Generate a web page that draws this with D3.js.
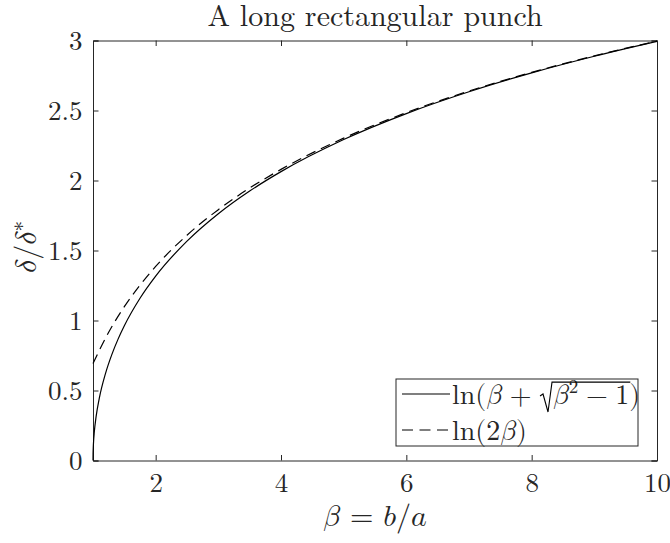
<!DOCTYPE html>
<html>
<head>
<meta charset="utf-8">
<script src="https://cdn.jsdelivr.net/npm/d3@7"></script>
<style>
  html, body { margin: 0; padding: 0; background: #fff; }
  svg text { font-family: "Latin Modern Roman", "CMU Serif", serif; fill: #262626; }
  svg text.math, svg tspan.math { font-family: "Latin Modern Math", "Latin Modern Roman", serif; }
</style>
</head>
<body>
<svg id="chart" width="670" height="543"></svg>
<script>
// Displacement ratio against aspect ratio for a long rectangular punch
const betaExact = [1, 1.001, 1.005, 1.01, 1.02, 1.05, 1.1, 1.2, 1.3, 1.4, 1.5, 1.75, 2, 2.5, 3, 3.5, 4, 5, 6, 7, 8, 9, 10];
const deltaExact = [0, 0.0447, 0.0999, 0.1413, 0.1997, 0.3150, 0.4436, 0.6224, 0.7564, 0.8670, 0.9624, 1.1588, 1.3170, 1.5668, 1.7627, 1.9248, 2.0634, 2.2924, 2.4779, 2.6339, 2.7687, 2.8873, 2.9932];

const betaApprox = [1, 1.25, 1.5, 1.75, 2, 2.5, 3, 3.5, 4, 5, 6, 7, 8, 9, 10];
const deltaApprox = [0.6931, 0.9163, 1.0986, 1.2528, 1.3863, 1.6094, 1.7918, 1.9459, 2.0794, 2.3026, 2.4849, 2.6391, 2.7726, 2.8904, 2.9957];

const xTicks = [2, 4, 6, 8, 10];
const yTicks = [0, 0.5, 1, 1.5, 2, 2.5, 3];

const svg = d3.select("#chart");
const W = 670, H = 543;
const margin = { left: 93, right: 13, top: 40.5, bottom: 82.5 };
const x = d3.scaleLinear().domain([1, 10]).range([margin.left, W - margin.right]);
const y = d3.scaleLinear().domain([0, 3]).range([H - margin.bottom, margin.top]);

const ink = "#262626";
const tickLen = 5.5;
const tickFont = 27;

// axes: ticks point inward and are mirrored on the top and right edges
const gx = svg.append("g").attr("transform", `translate(0,${y(0)})`)
  .call(d3.axisBottom(x).tickValues(xTicks).tickSize(-tickLen).tickPadding(12.5).tickFormat(d3.format("d")));
const gxTop = svg.append("g").attr("transform", `translate(0,${y(3)})`)
  .call(d3.axisTop(x).tickValues(xTicks).tickSize(-tickLen).tickFormat(""));
const gy = svg.append("g").attr("transform", `translate(${x(1)},0)`)
  .call(d3.axisLeft(y).tickValues(yTicks).tickSize(-tickLen).tickPadding(10.5).tickFormat(d3.format("")));
const gyRight = svg.append("g").attr("transform", `translate(${x(10)},0)`)
  .call(d3.axisRight(y).tickValues(yTicks).tickSize(-tickLen).tickFormat(""));

[gx, gxTop, gy, gyRight].forEach(g => {
  g.attr("font-family", null);
  g.select(".domain").attr("stroke", ink).attr("stroke-width", 1);
  g.selectAll(".tick line").attr("stroke", ink).attr("stroke-width", 1);
  g.selectAll(".tick text").attr("font-size", tickFont).attr("fill", ink);
});

// curves
const line = d3.line().x(d => x(d[0])).y(d => y(d[1])).curve(d3.curveMonotoneX);
const exactPts = betaExact.map((b, i) => [b, deltaExact[i]]);
const approxPts = betaApprox.map((b, i) => [b, deltaApprox[i]]);

svg.append("path").datum(approxPts).attr("d", line)
  .attr("fill", "none").attr("stroke", "#000").attr("stroke-width", 1.2)
  .attr("stroke-dasharray", "10,6");
svg.append("path").datum(exactPts).attr("d", line)
  .attr("fill", "none").attr("stroke", "#000").attr("stroke-width", 1.2);

// title
svg.append("text").attr("x", (x(1) + x(10)) / 2).attr("y", 26)
  .attr("text-anchor", "middle").attr("font-size", 30).attr("fill", "#000")
  .text("A long rectangular punch");

// x label: β = b/a
svg.append("text").attr("class", "math").attr("x", (x(1) + x(10)) / 2).attr("y", 526)
  .attr("text-anchor", "middle").attr("font-size", 30)
  .text("𝛽 = 𝑏/𝑎");

// y label: δ/δ*
const yl = svg.append("text").attr("class", "math")
  .attr("transform", `translate(36,247) rotate(-90)`)
  .attr("text-anchor", "middle").attr("font-size", 30);
yl.append("tspan").text("𝛿/𝛿");
yl.append("tspan").attr("font-size", 21).attr("dy", -12).text("∗");

// legend
const lg = svg.append("g");
const lx0 = 396, ly0 = 379, lw = 242, lh = 67;
lg.append("rect").attr("x", lx0).attr("y", ly0).attr("width", lw).attr("height", lh)
  .attr("fill", "#fff").attr("stroke", ink).attr("stroke-width", 1);

const row1 = 394, row2 = 430;
const sampleX0 = 402, sampleX1 = 450, textX = 452;
lg.append("line").attr("x1", sampleX0).attr("x2", sampleX1).attr("y1", row1).attr("y2", row1)
  .attr("stroke", "#000").attr("stroke-width", 1.2);
lg.append("line").attr("x1", sampleX0).attr("x2", sampleX1).attr("y1", row2).attr("y2", row2)
  .attr("stroke", "#000").attr("stroke-width", 1.2).attr("stroke-dasharray", "11,6.5");

const legFont = 28;
const base1 = 404, base2 = 439.5;
const medSp = 0.27 * legFont;
const radW = 14;

// ln(β + √(β² − 1)) laid out with math spacing around the binary operators
const t1 = lg.append("text").attr("class", "math").attr("x", textX).attr("y", base1).attr("font-size", legFont);
const pa = t1.append("tspan").text("ln(𝛽");
const pPlus = t1.append("tspan").attr("dx", medSp).text("+");
const pb = t1.append("tspan").attr("dx", medSp + radW).text("𝛽");
const pc = t1.append("tspan").attr("font-size", 19).attr("dy", -11).text("2");
const pMinus = t1.append("tspan").attr("dx", medSp).attr("dy", 11).text("−");
const pOne = t1.append("tspan").attr("dx", medSp).text("1");
const pClose = t1.append("tspan").text(")");

const len = s => s.node().getComputedTextLength();
const radX = textX + len(pa) + medSp + len(pPlus) + medSp;
const radicandEnd = radX + radW + len(pb) + len(pc) + medSp + len(pMinus) + medSp + len(pOne);
const barY = base1 - 0.78 * legFont;
// radical sign with its overbar
lg.append("path")
  .attr("d", `M${radX + 1},${base1 - 8} L${radX + 4},${base1 - 10} L${radX + 9},${base1 + 8} L${radX + radW - 1},${barY} L${radicandEnd + 1},${barY}`)
  .attr("fill", "none").attr("stroke", "#000").attr("stroke-width", 1.1).attr("stroke-linejoin", "miter");

// ln(2β)
lg.append("text").attr("class", "math").attr("x", textX).attr("y", base2).attr("font-size", legFont)
  .text("ln(2𝛽)");
</script>
</body>
</html>
